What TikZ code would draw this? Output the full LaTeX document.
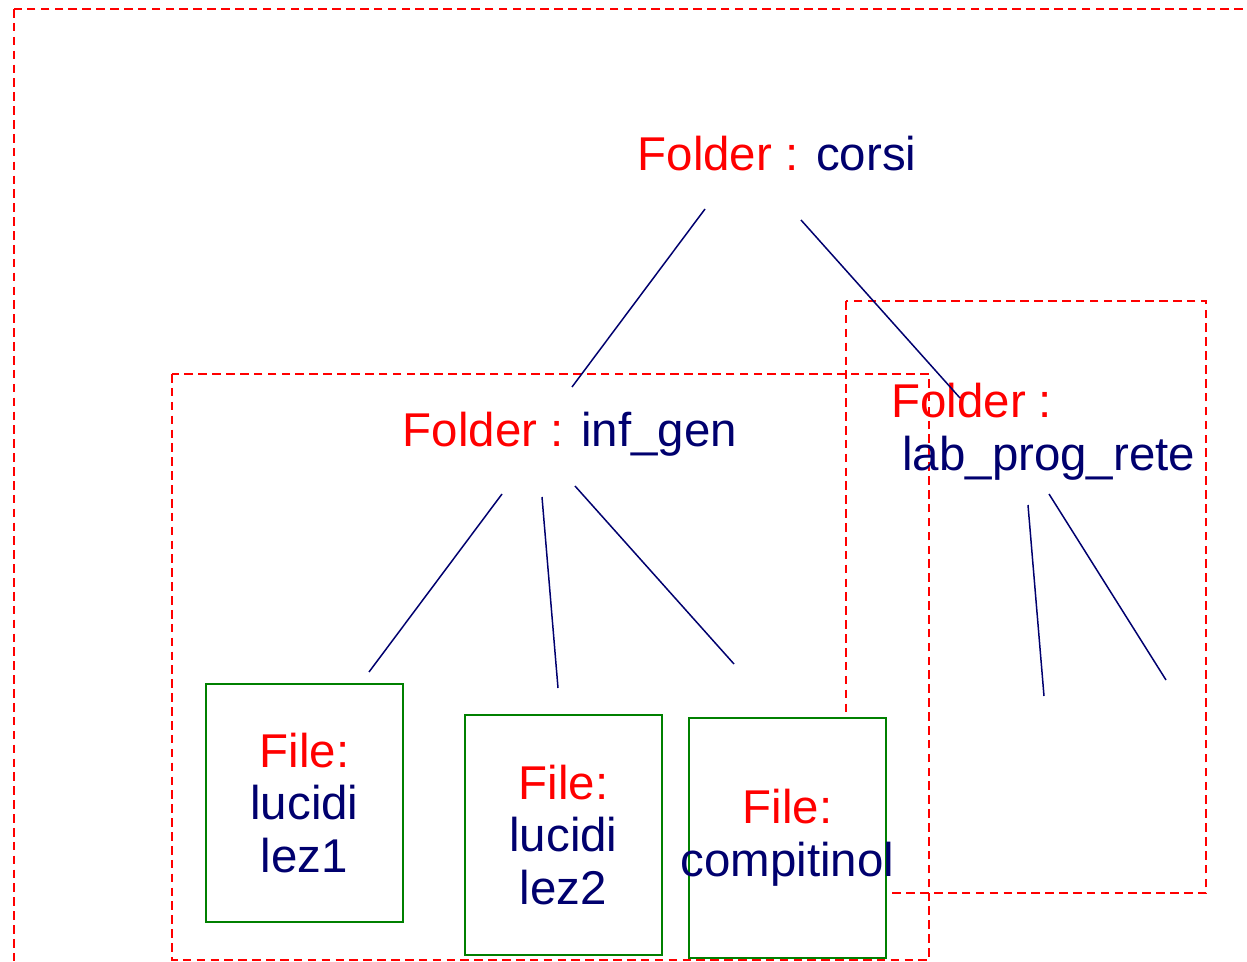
\documentclass[tikz,border=0pt]{standalone}
\usepackage{fontspec}
\setmainfont{Liberation Sans}
\definecolor{dirred}{RGB}{255, 0, 0}
\definecolor{namenavy}{RGB}{0, 0, 110}
\definecolor{filegreen}{RGB}{0, 128, 0}
\usetikzlibrary{positioning, calc}

\begin{document}
\begin{tikzpicture}[x=0.02cm, y=-0.02cm,
        frame/.style={draw=dirred, line width=1.4pt, dash pattern=on 4.9pt off 3pt},
        label/.style={font=\fontsize{27}{30}\selectfont, inner sep=0pt, align=center},
        filebox/.style={draw=filegreen, fill=white, line width=1.2pt, minimum width=3.94cm, inner sep=0pt},
        branch/.style={draw=namenavy, line width=0.85pt}]
        \useasboundingbox (0,0) rectangle (1247,962);
        \clip (0,0) rectangle (1247,962);

        % Dashed frames (outer one runs off the page)
        \draw[frame] (14,9) rectangle (1300,1010);
        \draw[frame] (846,301) rectangle (1206,893);
        \draw[frame] (172,374) rectangle (929,960);

        % Folder labels
        \node[label, anchor=base] (corsi) at (777,171)
            {\textcolor{dirred}{Folder :} \textcolor{namenavy}{corsi}};
        \node[label, anchor=base] (infgen) at (570,447)
            {\textcolor{dirred}{Folder :} \textcolor{namenavy}{inf\_gen}};
        \node[label, anchor=base west, text=dirred] (labfolder) at (891,418) {Folder :};
        \node[label, anchor=base west, text=namenavy] (labprog) at (902,471) {lab\_prog\_rete};

        % File boxes
        \node[filebox, minimum height=4.76cm] (lez1) at (304.5,803) {};
        \node[filebox, minimum height=4.8cm] (lez2) at (563.5,835) {};
        \node[filebox, minimum height=4.8cm] (compit) at (787.5,838) {};
        \node[label] (lez1txt) at (lez1.center)
            {\textcolor{dirred}{File:}\\\textcolor{namenavy}{lucidi}\\\textcolor{namenavy}{lez1}};
        \node[label] (lez2txt) at (lez2.center)
            {\textcolor{dirred}{File:}\\\textcolor{namenavy}{lucidi}\\\textcolor{namenavy}{lez2}};
        \node[label] (compittxt) at (compit.center)
            {\textcolor{dirred}{File:}\\\textcolor{namenavy}{compitinol}};

        % Branch end points
        \coordinate (c1) at (705,209);  \coordinate (c2) at (572,387);
        \coordinate (c3) at (801,220);  \coordinate (c4) at (960,398);
        \coordinate (i1) at (502,494);  \coordinate (i2) at (369,672);
        \coordinate (i3) at (542,497);  \coordinate (i4) at (558,688);
        \coordinate (i5) at (575,486);  \coordinate (i6) at (734,664);
        \coordinate (l1) at (1028,505); \coordinate (l2) at (1044,696);
        \coordinate (l3) at (1049,494); \coordinate (l4) at (1166,680);

        % Branches
        \draw[branch] (c1) -- (c2);
        \draw[branch] (c3) -- (c4);
        \draw[branch] (i1) -- (i2);
        \draw[branch] (i3) -- (i4);
        \draw[branch] (i5) -- (i6);
        \draw[branch] (l1) -- (l2);
        \draw[branch] (l3) -- (l4);
    \end{tikzpicture}
\end{document}
